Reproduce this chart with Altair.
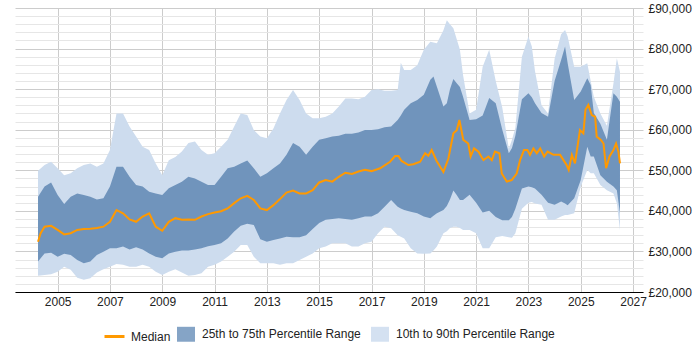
import altair as alt
import pandas as pd

# Salary percentiles over time (values in £ thousands)
band_year = [
    2004.25, 2004.5, 2004.75, 2005.0, 2005.25, 2005.5, 2005.75, 2006.0,
    2006.25, 2006.5, 2006.75, 2007.0, 2007.25, 2007.5, 2007.75, 2008.0,
    2008.25, 2008.5, 2008.75, 2009.0, 2009.25, 2009.5, 2009.75, 2010.0,
    2010.25, 2010.5, 2010.75, 2011.0, 2011.25, 2011.5, 2011.75, 2012.0,
    2012.25, 2012.5, 2012.75, 2013.0, 2013.25, 2013.5, 2013.75, 2014.0,
    2014.25, 2014.5, 2014.75, 2015.0, 2015.25, 2015.5, 2015.75, 2016.0,
    2016.25, 2016.5, 2016.75, 2017.0, 2017.25, 2017.5, 2017.75, 2018.0,
    2018.12, 2018.25, 2018.5, 2018.75, 2019.0, 2019.25, 2019.37, 2019.5,
    2019.75, 2019.88, 2020.0, 2020.13, 2020.25, 2020.38, 2020.5, 2020.75,
    2021.0, 2021.25, 2021.5, 2021.75, 2022.0, 2022.25, 2022.37, 2022.5,
    2022.75, 2023.0, 2023.13, 2023.25, 2023.5, 2023.75, 2024.0, 2024.25,
    2024.4, 2024.5, 2024.75, 2025.0, 2025.25, 2025.38, 2025.5, 2025.75,
    2026.0, 2026.25, 2026.38, 2026.5,
]
p10_k = [
    24.0, 24.2, 24.4, 25.0, 26.2, 25.5, 23.5, 23.0,
    23.4, 24.8, 25.6, 26.2, 26.9, 26.7, 26.2, 26.2,
    26.7, 26.2, 25.0, 24.2, 25.0, 25.6, 24.8, 24.0,
    24.2, 24.6, 26.2, 26.7, 27.5, 28.7, 29.9, 31.6,
    31.6, 28.7, 27.1, 27.1, 27.1, 26.7, 27.1, 27.1,
    27.9, 28.7, 29.5, 30.8, 31.2, 32.0, 32.0, 32.0,
    31.2, 31.2, 32.0, 32.4, 34.5, 36.1, 35.7, 34.0,
    33.6, 33.2, 30.8, 29.5, 29.4, 29.5, 30.2, 31.2,
    34.5, 35.0, 35.8, 36.1, 36.1, 35.8, 35.3, 35.3,
    34.5, 30.8, 30.8, 33.5, 33.8, 33.5, 33.4, 34.5,
    40.5, 42.0, 42.2, 41.8, 41.5, 37.8, 37.8, 38.6,
    39.0, 39.0, 39.4, 46.0, 50.1, 49.3, 49.3, 46.4,
    45.1, 44.3, 41.9, 35.3,
]
p25_k = [
    27.5, 29.5, 29.7, 28.7, 29.4, 29.1, 27.9, 27.1,
    27.5, 29.1, 29.9, 30.8, 30.8, 31.2, 30.5, 31.0,
    30.5, 29.5, 28.7, 28.3, 29.5, 29.9, 30.2, 30.2,
    30.5, 30.8, 31.3, 31.6, 32.0, 33.2, 34.9, 36.3,
    36.8, 36.5, 33.0, 32.4, 32.8, 33.2, 33.6, 33.5,
    33.5, 34.0, 35.5, 37.0, 37.8, 38.0, 38.2, 38.0,
    37.8, 38.2, 38.6, 38.6, 39.4, 41.0, 42.7, 41.0,
    40.6, 40.2, 39.8, 39.4, 38.6, 38.2, 38.8, 39.4,
    40.2, 41.2, 42.8, 45.0, 44.0, 42.7, 42.7, 44.0,
    42.0, 39.6, 40.0, 38.5, 37.7, 37.7, 38.5, 40.5,
    45.5, 46.0, 45.8, 45.5, 44.0, 42.0, 41.5, 42.3,
    41.8, 41.4, 43.1, 47.6, 55.8, 53.4, 53.4, 48.8,
    47.2, 46.0, 45.1, 39.4,
]
p75_k = [
    43.5, 46.0, 47.0, 43.9, 41.7, 43.5, 44.3, 43.9,
    43.5, 42.8, 43.1, 46.0, 50.9, 50.9, 48.4, 46.4,
    46.0, 44.7, 44.3, 43.9, 45.6, 46.4, 47.2, 48.4,
    48.0, 47.2, 46.4, 46.4, 48.4, 50.5, 50.9, 51.7,
    52.4, 50.5, 48.4, 49.3, 50.5, 51.7, 53.8, 56.7,
    55.8, 53.8, 55.8, 57.5, 57.9, 58.3, 58.5, 59.0,
    59.0, 59.3, 59.9, 59.9, 60.1, 60.6, 60.8, 62.4,
    63.5, 64.9, 66.5, 67.3, 68.6, 72.3, 73.1, 70.6,
    65.7, 66.5, 70.0, 72.5, 71.5, 70.5, 68.1, 62.4,
    62.6, 63.5, 67.8, 66.5, 60.0, 54.2, 55.5, 58.5,
    67.5, 69.0, 68.0, 66.5, 64.1, 63.2, 72.0, 77.2,
    80.5, 76.4, 67.3, 69.4, 72.7, 71.0, 64.1, 61.5,
    57.5, 69.0, 68.1, 66.9,
]
p90_k = [
    49.9, 51.3, 52.1, 50.5, 48.8, 49.3, 50.5, 51.3,
    51.7, 50.9, 51.7, 55.0, 64.0, 64.0, 60.8, 58.3,
    55.8, 55.0, 51.7, 48.8, 52.5, 53.3, 54.6, 56.7,
    57.1, 55.0, 53.8, 54.2, 55.8, 57.5, 60.8, 64.0,
    63.6, 59.9, 58.3, 57.9, 60.3, 64.0, 67.3, 69.8,
    67.3, 64.0, 62.8, 62.8, 63.2, 64.0, 65.7, 67.7,
    67.7, 67.5, 68.1, 69.8, 70.0, 69.6, 69.6, 69.8,
    76.5, 74.7, 74.7, 75.9, 79.7, 81.7, 81.5, 81.3,
    84.5, 87.0, 86.0, 85.0, 82.5, 79.7, 73.5, 64.0,
    64.9, 75.5, 79.7, 72.0, 65.5, 55.3, 57.5, 60.5,
    78.0, 83.0, 80.5, 74.5, 66.0, 64.0, 77.5, 83.5,
    84.6, 83.0, 75.5, 75.5, 76.4, 72.0, 68.1, 64.0,
    61.0, 71.4, 77.6, 74.3,
]

median_year = [
    2004.25, 2004.35, 2004.5, 2004.75, 2005.0, 2005.25, 2005.5, 2005.75, 2006.0,
    2006.25, 2006.5, 2006.75, 2007.0, 2007.25, 2007.5, 2007.75, 2008.0,
    2008.25, 2008.5, 2008.75, 2009.0, 2009.25, 2009.5, 2009.75, 2010.0,
    2010.25, 2010.5, 2010.75, 2011.0, 2011.25, 2011.5, 2011.75, 2012.0,
    2012.25, 2012.5, 2012.75, 2013.0, 2013.25, 2013.5, 2013.75, 2014.0,
    2014.25, 2014.5, 2014.75, 2015.0, 2015.25, 2015.5, 2015.75, 2016.0,
    2016.25, 2016.5, 2016.75, 2017.0, 2017.33, 2017.71, 2017.90, 2018.03,
    2018.15, 2018.41, 2018.60, 2018.86, 2019.05, 2019.17, 2019.30, 2019.49,
    2019.75, 2019.94, 2020.13, 2020.26, 2020.36, 2020.51, 2020.70, 2020.79,
    2020.92, 2021.09, 2021.28, 2021.47, 2021.60, 2021.72, 2021.89, 2021.98,
    2022.17, 2022.36, 2022.55, 2022.68, 2022.83, 2022.96, 2023.06, 2023.19,
    2023.32, 2023.45, 2023.60, 2023.73, 2023.96, 2024.21, 2024.34, 2024.46,
    2024.54, 2024.66, 2024.78, 2024.97, 2025.10, 2025.18, 2025.29, 2025.42,
    2025.55, 2025.61, 2025.77, 2025.87, 2025.97, 2026.10, 2026.25, 2026.35,
    2026.44, 2026.50,
]
median_k = [
    32.4, 34.5, 36.1, 36.3, 35.3, 34.2, 34.5, 35.3, 35.5,
    35.6, 35.8, 36.1, 37.3, 40.2, 39.4, 37.9, 37.3,
    38.6, 39.4, 36.1, 35.1, 37.3, 38.2, 37.8, 37.9,
    37.8, 38.6, 39.2, 39.6, 39.9, 40.6, 41.9, 43.1,
    43.7, 42.7, 40.6, 40.2, 41.4, 42.9, 44.5, 45.0,
    44.3, 44.3, 45.1, 47.0, 47.6, 47.2, 48.4, 49.4,
    49.1, 49.7, 50.1, 49.8, 50.5, 52.1, 53.5, 53.5,
    52.3, 51.3, 51.5, 52.1, 54.2, 53.6, 55.0, 52.3,
    49.6, 52.9, 59.1, 59.9, 62.4, 57.5, 56.6, 53.4,
    55.4, 54.6, 52.5, 53.4, 52.5, 54.6, 54.2, 49.2,
    47.2, 47.6, 49.2, 52.5, 55.0, 55.0, 53.8, 55.4,
    54.2, 55.4, 53.4, 54.6, 53.8, 53.8, 52.5, 51.3,
    50.1, 53.8, 51.7, 59.9, 59.1, 64.9, 66.1, 63.6,
    63.2, 58.3, 57.5, 56.6, 50.5, 53.4, 55.0, 56.6,
    54.6, 51.7,
]

tick_years = [2005, 2007, 2009, 2011, 2013, 2015, 2017, 2019, 2021, 2023, 2025, 2027]
y_ticks = list(range(20000, 90001, 2000))

range_names = ["25th to 75th Percentile Range", "10th to 90th Percentile Range"]
range_colors = ["#7094bc", "#cddcee"]
median_name = ["Median"]
median_color = ["#ff9900"]

bands = pd.DataFrame({
    "year": band_year,
    "p10": [v * 1000 for v in p10_k],
    "p25": [v * 1000 for v in p25_k],
    "p75": [v * 1000 for v in p75_k],
    "p90": [v * 1000 for v in p90_k],
})
med = pd.DataFrame({"year": median_year, "median": [v * 1000 for v in median_k]})

FONT = "Liberation Sans, Arial, sans-serif"

x_enc = alt.X(
    "year:Q",
    scale=alt.Scale(domain=[2003.37, 2027.38], nice=False, zero=False),
    axis=alt.Axis(
        values=tick_years, format="d", title=None, grid=True,
        gridColor="#cccccc", gridWidth=1, ticks=False,
        domainColor="#000000", domainWidth=1,
        labelFont=FONT, labelFontSize=12, labelColor="#222222",
        labelPadding=4, labelOverlap=False,
    ),
)

y_scale = alt.Scale(domain=[20000, 90000], nice=False, zero=False)
y_axis = alt.Axis(
    orient="right", values=y_ticks, title=None, ticks=False, domain=False,
    grid=True,
    gridColor={"condition": {"test": "datum.value % 10000 === 0", "value": "#cccccc"},
               "value": "#e6e6e6"},
    labelExpr="datum.value % 10000 === 0 ? '£' + format(datum.value, ',') : ''",
    labelFont=FONT, labelFontSize=12, labelColor="#222222",
    labelPadding=5, labelOverlap=False,
)

range_fill = alt.Fill(
    "series:N",
    scale=alt.Scale(domain=range_names, range=range_colors),
    legend=alt.Legend(
        orient="none", direction="horizontal", legendX=162, legendY=317,
        title=None, symbolType="M-1,-0.83H1V0.83H-1Z", symbolSize=324,
        symbolStrokeWidth=0, symbolOpacity=0.85, labelOffset=7, columnPadding=10,
        labelFont=FONT, labelFontSize=12, labelColor="#222222",
    ),
)
median_stroke = alt.Stroke(
    "series:N",
    scale=alt.Scale(domain=median_name, range=median_color),
    legend=alt.Legend(
        orient="none", direction="horizontal", legendX=88, legendY=317,
        title=None, symbolType="stroke", symbolSize=400, symbolStrokeWidth=3,
        labelOffset=5, labelFont=FONT, labelFontSize=12, labelColor="#222222",
    ),
)

outer = (
    alt.Chart(bands)
    .transform_calculate(series="'10th to 90th Percentile Range'")
    .mark_area(interpolate="linear")
    .encode(x=x_enc, y=alt.Y("p10:Q", scale=y_scale, axis=y_axis), y2="p90:Q", fill=range_fill)
)
inner = (
    alt.Chart(bands)
    .transform_calculate(series="'25th to 75th Percentile Range'")
    .mark_area(interpolate="linear")
    .encode(x=x_enc, y=alt.Y("p25:Q", scale=y_scale, axis=y_axis), y2="p75:Q", fill=range_fill)
)
line = (
    alt.Chart(med)
    .transform_calculate(series="'Median'")
    .mark_line(strokeWidth=2, interpolate="linear")
    .encode(x=x_enc, y=alt.Y("median:Q", scale=y_scale, axis=y_axis), stroke=median_stroke)
)

chart = (
    alt.layer(outer, inner, line)
    .properties(
        width=628, height=284,
        autosize=alt.AutoSizeParams(type="none"),
        padding={"left": 15, "top": 8, "right": 57, "bottom": 58},
        background="white",
    )
    .configure_view(stroke=None)
)

chart.save("out.html", embed_options={"renderer": "svg", "actions": False})
